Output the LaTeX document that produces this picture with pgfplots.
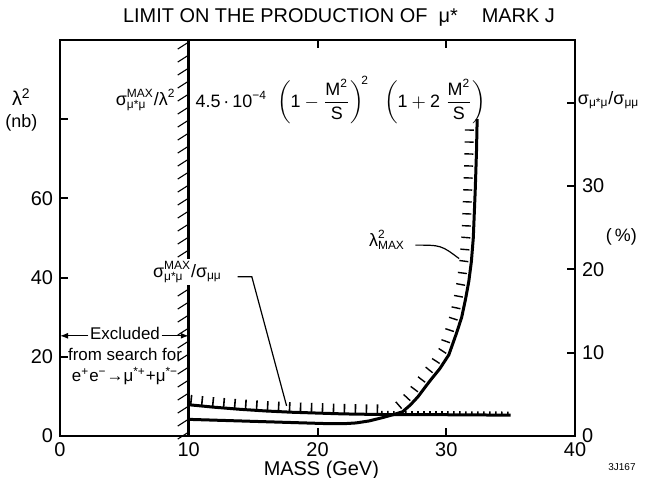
\documentclass[border=0pt]{standalone}
\usepackage{fontspec}
\setmainfont{Liberation Sans}
\usepackage{amsmath}
\usepackage{pgfplots}
\pgfplotsset{compat=1.18}
\usetikzlibrary{decorations.markings,arrows.meta}
\newcommand{\sm}[2]{$^{\text{#1}}_{\text{#2}}$}
\tikzset{
 hatchL/.style={postaction={decorate,decoration={markings,mark=between positions 0.01 and 1 step 6.5bp with {\draw[line width=0.55bp] (0,0)--(-3.5bp,5.5bp);}}}},
 ticksUp/.style={postaction={decorate,decoration={markings,mark=between positions 0.01 and 1 step 5.5bp with {\draw[line width=0.8bp] (0,0)--(0,5bp);}}}},
 ticksSmall/.style={postaction={decorate,decoration={markings,mark=between positions 0 and 1 step 3bp with {\draw[line width=0.8bp] (0,0)--(0,1.8bp);}}}},
 ticksLam/.style={postaction={decorate,decoration={markings,mark=between positions 0.03 and 1 step 6bp with {\draw[line width=0.7bp] (0,1.5bp)--(0,6bp);}}}},
}
\begin{document}
\begin{tikzpicture}
\begin{axis}[
 at={(0,0)}, anchor=south west,
 scale only axis, width=257.5bp, height=198bp,
 xmin=0, xmax=40, ymin=0, ymax=100,
 xtick={0,10,20,30,40}, ytick={0,20,40,60,80}, yticklabels={0,20,40,60,{}},
 xtick pos=both, ytick pos=left, tick align=inside,
 major tick length=4bp,
 axis line style={line width=1bp}, tick style={line width=1bp,black},
 clip=false,
 ticklabel style={font=\fontsize{10}{10}\selectfont},
 xticklabel style={inner sep=1pt, yshift=-2bp},
 /pgf/number format/assume math mode=true,
]
% excluded boundary with hatching
\addplot[black, line width=1.3bp, hatchL] coordinates {(10,0) (10,100)};
% lambda^2_MAX curve
\addplot[black, line width=1.5bp] coordinates {
(10,4.2) (12,4.0) (14,3.8) (16,3.6) (18,3.4) (20,3.2) (21,3.1) (22,3.1) (23,3.3) (24,3.8) (25,4.6) (26,5.5)};
\addplot[black, line width=1.5bp, ticksLam] coordinates {
(26,5.5) (26.6,6.1) (27.2,7.8) (27.8,9.9) (28.4,12.5) (28.8,14.2) (29.5,17) (30.2,20.5) (30.8,26) (31.2,30) (31.5,34.6) (31.75,39) (31.95,44) (32.1,50) (32.25,62) (32.35,72) (32.4,80)};
% texts
\node[font=\fontsize{10}{10}\selectfont] at (axis cs:17.9,105.6) {LIMIT ON THE PRODUCTION OF \ μ*};
\node[font=\fontsize{10}{10}\selectfont] at (axis cs:35.6,106.2) {MARK J};
\node[font=\fontsize{10}{10}\selectfont] at (axis cs:-3.0,85.5) {λ$^{\text{2}}$};
\node[font=\fontsize{9}{9}\selectfont] at (axis cs:-3.0,79) {(nb)};
\node[anchor=east, font=\fontsize{9}{9}\selectfont, inner sep=0pt] at (axis cs:9.0,84.8)
 {σ\sm{MAX}{μ*μ}/λ$^{\text{2}}$};
\node[anchor=west, font=\fontsize{9}{9}\selectfont, inner sep=0pt] at (axis cs:10.5,84.8)
 {4.5\,·\,10$^{\text{−4}}$\ \ $\left(\text{1}-\dfrac{\text{M}^{\text{2}}}{\text{S}}\right)^{\!\text{2}}$\ \ \ $\left(\text{1}+\text{2}\;\dfrac{\text{M}^{\text{2}}}{\text{S}}\right)$};
\node[font=\fontsize{9}{9}\selectfont, fill=white, inner sep=1pt] at (axis cs:9.9,41.4) {σ\sm{MAX}{μ*μ}/σ$_{\text{μμ}}$};
\draw[line width=0.6bp] (axis cs:13.8,40.2) -- (axis cs:14.9,40.2) -- (axis cs:17.6,7.6);
\node[font=\fontsize{9}{9}\selectfont] at (axis cs:25.4,49.5) {λ$^{\text{2}}_{\text{MAX}}$};
\draw[line width=0.6bp] (axis cs:27.6,48.2) .. controls (axis cs:29.6,48.2) .. (axis cs:31.0,44.8);
\node[align=center, font=\fontsize{8.5}{10.5}\selectfont] at (axis cs:5.05,20.2) {Excluded\\from search for\\e$^{\text{+}}$e$^{\text{−}}$→μ$^{\text{*+}}$+μ$^{\text{*−}}$};
\draw[line width=0.6bp, -{Latex[length=4bp,width=3bp]}] (axis cs:2.2,25.3) -- (axis cs:0,25.3);
\draw[line width=0.6bp, -{Latex[length=4bp,width=3bp]}] (axis cs:7.9,25.3) -- (axis cs:10,25.3);
\node[font=\fontsize{10}{10}\selectfont, inner sep=0.5pt] at (axis cs:20.3,-8.6) {MASS (GeV)};
\node[font=\fontsize{5}{5}\selectfont] at (axis cs:43.65,-7.8) {3J167};
\node[anchor=west, font=\fontsize{9}{9}\selectfont, inner sep=0pt] at (axis cs:40.2,84.8) {σ$_{\text{μ*μ}}$/σ$_{\text{μμ}}$};
\node[font=\fontsize{9}{9}\selectfont] at (axis cs:43.6,50.3) {(\,\%)};
\end{axis}
\begin{axis}[
 at={(0,0)}, anchor=south west,
 scale only axis, width=257.5bp, height=198bp,
 xmin=0, xmax=40, ymin=0, ymax=47.5,
 axis x line=none, axis y line*=right,
 ytick={0,10,20,30,40}, yticklabels={0,10,20,30,{}},
 tick align=inside, major tick length=4bp,
 axis line style={line width=1bp,-}, tick style={line width=1bp,black},
 ticklabel style={font=\fontsize{10}{10}\selectfont},
 /pgf/number format/assume math mode=true,
]
% sigma ratio (%)
\addplot[black, line width=1.5bp, ticksUp] coordinates {
(10,3.75) (12,3.45) (14,3.2) (16,3.0) (18,2.85) (20,2.75) (22,2.65) (24,2.6) (25,2.58)};
\addplot[black, line width=1.5bp, ticksSmall] coordinates {
(25,2.58) (27,2.55) (30,2.55) (35,2.5)};
\end{axis}
\pgfresetboundingbox
\path (-30bp,-21bp) rectangle (303.5bp,218bp);
\end{tikzpicture}
\end{document}
